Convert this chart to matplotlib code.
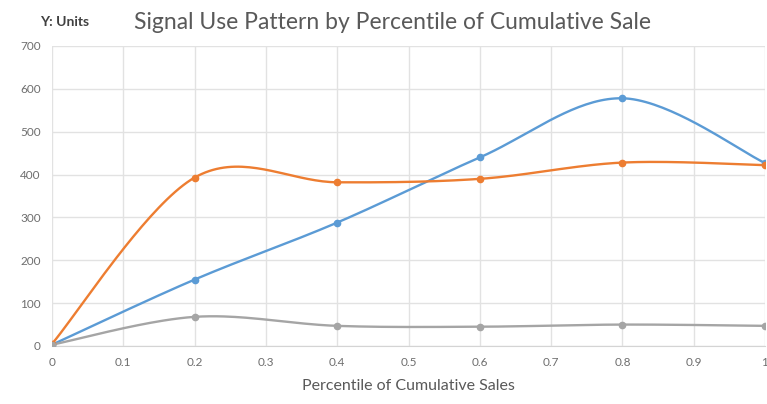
import numpy as np
import matplotlib.pyplot as plt

plt.rcParams['font.family'] = ['Lato', 'DejaVu Sans']

# percentile of cumulative sales
pct = [0, 0.2, 0.4, 0.6, 0.8, 1.0]

# units per series
blue_units = [3, 155, 288, 440, 578, 427]
orange_units = [5, 393, 382, 390, 428, 422]
gray_units = [3, 68, 47, 45, 50, 47]

x_ticks = [0, 0.1, 0.2, 0.3, 0.4, 0.5, 0.6, 0.7, 0.8, 0.9, 1]
x_tick_labels = ['0', '0.1', '0.2', '0.3', '0.4', '0.5', '0.6', '0.7', '0.8', '0.9', '1']
y_ticks = [0, 100, 200, 300, 400, 500, 600, 700]


def smooth(xs, ys, n=40):
    # spreadsheet-style smoothed line: cubic bezier with catmull-rom handles
    xs = np.asarray(xs, float)
    ys = np.asarray(ys, float)
    pts = np.column_stack([xs, ys])
    out = []
    for i in range(len(pts) - 1):
        p0 = pts[i - 1] if i > 0 else pts[i]
        p1 = pts[i]
        p2 = pts[i + 1]
        p3 = pts[i + 2] if i + 2 < len(pts) else pts[i + 1]
        c1 = p1 + (p2 - p0) / 6
        c2 = p2 - (p3 - p1) / 6
        t = np.linspace(0, 1, n)[:, None]
        seg = ((1 - t) ** 3) * p1 + 3 * ((1 - t) ** 2) * t * c1 + 3 * (1 - t) * t ** 2 * c2 + t ** 3 * p2
        out.append(seg if i == 0 else seg[1:])
    curve = np.vstack(out)
    return curve[:, 0], curve[:, 1]


fig = plt.figure(figsize=(7.67, 4.04), dpi=100)
ax = fig.add_axes([52 / 767, 58 / 404, 713 / 767, 300 / 404])

series = [
    (blue_units, '#5B9BD5'),
    (orange_units, '#ED7D31'),
    (gray_units, '#A5A5A5'),
]
for vals, col in series:
    sx, sy = smooth(pct, vals)
    ax.plot(sx, sy, color=col, lw=1.7, solid_capstyle='round', zorder=3)
    ax.plot(pct, vals, 'o', color=col, ms=4.5, zorder=4)

ax.set_xlim(0, 1)
ax.set_ylim(0, 700)
ax.set_xticks(x_ticks)
ax.set_xticklabels(x_tick_labels)
ax.set_yticks(y_ticks)
ax.grid(True, color='#E2E2E2', lw=1)
ax.set_axisbelow(True)
for s in ['top', 'right', 'left']:
    ax.spines[s].set_visible(False)
ax.spines['bottom'].set_color('#D4D4D4')
ax.tick_params(length=0, labelsize=8.5, colors='#6E6E6E', pad=8)

ax.set_xlabel('Percentile of Cumulative Sales', fontsize=11.5, color='#595959', labelpad=8)
fig.text(0.512, 0.945, 'Signal Use Pattern by Percentile of Cumulative Sale',
         ha='center', va='center', fontsize=16.5, color='#595959')
fig.text(0.084, 0.945, 'Y: Units', ha='center', va='center', fontsize=10,
         fontweight='bold', color='#404040')

fig.savefig('out.png', dpi=100)
